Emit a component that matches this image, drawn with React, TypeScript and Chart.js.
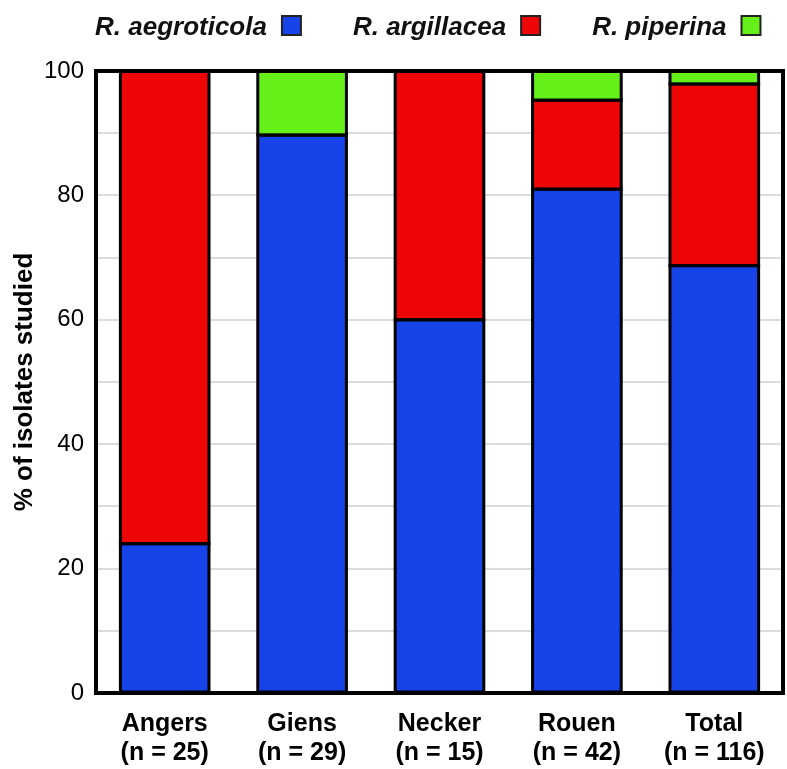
import React, { useEffect, useRef } from "react";
import { Chart, registerables } from "chart.js";
Chart.register(...registerables);

const sites: string[][] = [
  ["Angers", "(n = 25)"],
  ["Giens", "(n = 29)"],
  ["Necker", "(n = 15)"],
  ["Rouen", "(n = 42)"],
  ["Total", "(n = 116)"],
];
const aegroticola = [24, 89.7, 60, 81, 68.7];
const argillacea = [76, null, 40, 14.3, 29.2];
const piperina = [null, 10.3, null, 4.7, 2.1];
const seriesNames = ["R. aegroticola", "R. argillacea", "R. piperina"];
const seriesColors = ["#1744E8", "#EE0505", "#66F01A"];
const yTitle = "% of isolates studied";

const FONT = "'Liberation Sans', Arial, sans-serif";

const decor = {
  id: "decor",
  afterDatasetsDraw(chart: any) {
    const { ctx, chartArea } = chart;
    ctx.save();
    ctx.strokeStyle = "#000";
    ctx.lineWidth = 3;
    chart.data.datasets.forEach((_ds: any, di: number) => {
      const meta = chart.getDatasetMeta(di);
      meta.data.forEach((el: any, i: number) => {
        const v = chart.data.datasets[di].data[i];
        if (v == null) return;
        const { x, y, base, width } = el.getProps(["x", "y", "base", "width"], true);
        ctx.strokeRect(x - width / 2, y, width, base - y);
      });
    });
    ctx.lineWidth = 4;
    ctx.strokeRect(chartArea.left, chartArea.top, chartArea.right - chartArea.left, chartArea.bottom - chartArea.top);
    ctx.restore();
  },
  afterDraw(chart: any) {
    const { ctx, chartArea } = chart;
    ctx.save();
    ctx.translate(25, (chartArea.top + chartArea.bottom) / 2);
    ctx.rotate(-Math.PI / 2);
    ctx.font = `bold 26px ${FONT}`;
    ctx.fillStyle = "#000";
    ctx.textAlign = "center";
    ctx.textBaseline = "middle";
    ctx.fillText(yTitle, 0, 0);
    ctx.restore();
    // legend: bold italic text followed by a swatch
    ctx.save();
    ctx.font = `italic bold 26px ${FONT}`;
    ctx.textBaseline = "alphabetic";
    ctx.textAlign = "left";
    let x = 95;
    const base = 35;
    chart.data.datasets.forEach((ds: any) => {
      ctx.fillStyle = "#111";
      ctx.fillText(ds.label, x, base);
      x += ctx.measureText(ds.label).width + 15;
      ctx.fillStyle = ds.backgroundColor;
      ctx.fillRect(x, 16, 19, 19);
      ctx.strokeStyle = "#222";
      ctx.lineWidth = 2;
      ctx.strokeRect(x, 16, 19, 19);
      x += 19 + 52;
    });
    ctx.restore();
  },
};

export default function App() {
  const ref = useRef<HTMLCanvasElement>(null);
  useEffect(() => {
    document.body.style.margin = "0";
    const data = [aegroticola, argillacea, piperina];
    const chart = new Chart(ref.current!, {
      type: "bar",
      data: {
        labels: sites,
        datasets: data.map((d, i) => ({
          label: seriesNames[i],
          data: d,
          backgroundColor: seriesColors[i],
          borderWidth: 0,
          inflateAmount: 0,
          barPercentage: 0.645,
          categoryPercentage: 1,
        })),
      },
      options: {
        responsive: false,
        animation: false,
        layout: { padding: { top: 71, right: 4, left: 0, bottom: 0 } },
        plugins: { legend: { display: false }, tooltip: { enabled: false } },
        scales: {
          x: {
            stacked: true,
            grid: { display: false },
            border: { display: false },
            ticks: {
              color: "#000",
              padding: 9,
              font: { family: FONT, size: 25, weight: "bold", lineHeight: 1.15 },
            },
            afterFit(s: any) { s.height = 76; },
          },
          y: {
            stacked: true,
            min: 0,
            max: 100,
            grid: { color: "#dcdcdc", lineWidth: 2, drawTicks: false },
            border: { display: false },
            ticks: {
              stepSize: 10,
              color: "#000",
              padding: 12,
              font: { family: FONT, size: 24 },
              callback: (v: any) => (Number(v) % 20 === 0 ? String(v) : ""),
            },
            afterFit(s: any) { s.width = 96; },
          },
        },
      },
      plugins: [decor],
    });
    return () => chart.destroy();
  }, []);
  return (
    <div style={{ width: 787, height: 769, background: "#fff" }}>
      <canvas ref={ref} width={787} height={769} />
    </div>
  );
}
